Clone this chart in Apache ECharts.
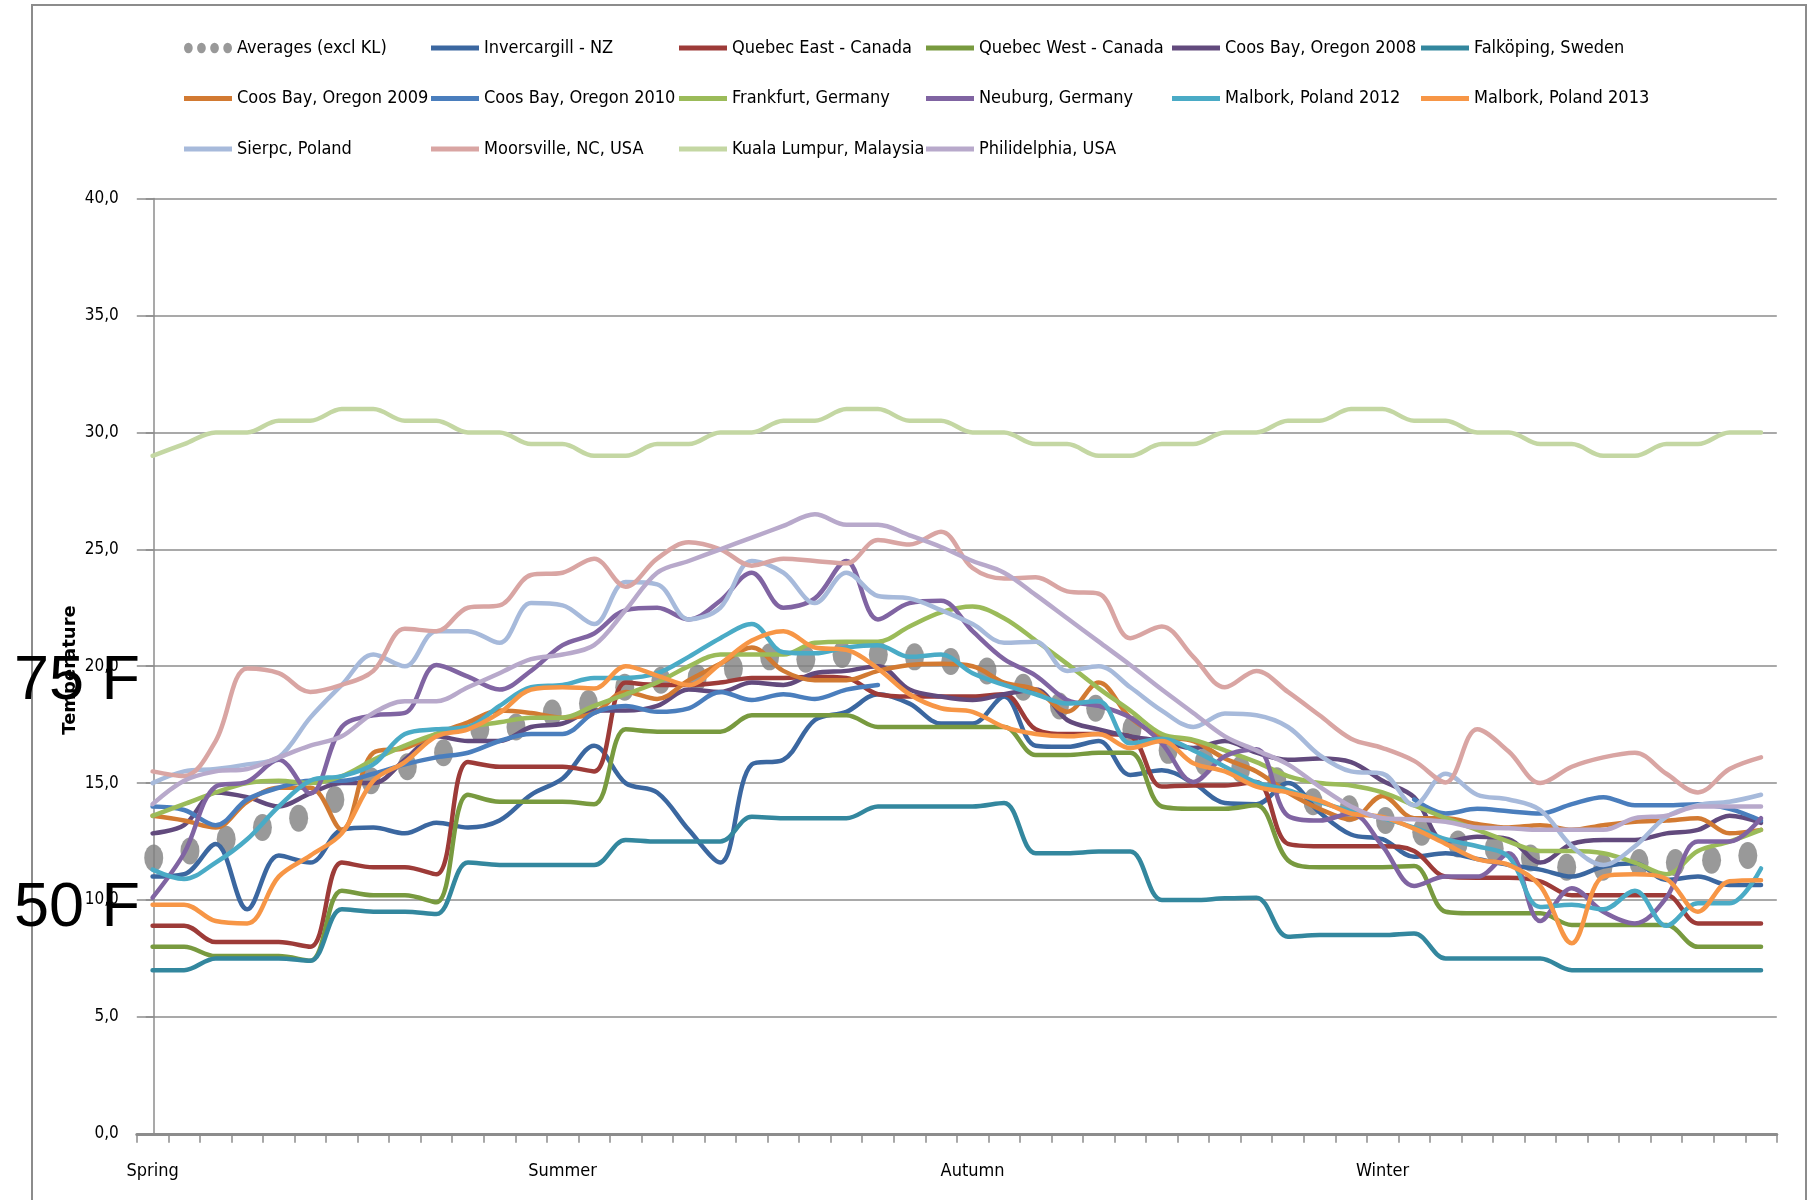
<!DOCTYPE html>
<html>
<head>
<meta charset="utf-8">
<title>Weekly temperatures</title>
<script src="https://cdn.jsdelivr.net/npm/echarts@6/dist/echarts.min.js"></script>
<style>
  html, body { margin: 0; padding: 0; background: #fff; }
  #chart { width: 1818px; height: 1200px; }
</style>
</head>
<body>
<div id="chart"></div>
<script>
/* Weekly temperature, 52 weeks starting in spring */

const seasonLabels = ['Spring', 'Summer', 'Autumn', 'Winter'];
const seasonStart = [0, 13, 26, 39];
const weeks = Array.from({ length: 52 }, (_, i) => 'W' + (i + 1));

// averages sit on their own 45-step axis
const averages = [11.8, 12.1, 12.6, 13.1, 13.5, 14.3, 15.1, 15.7, 16.3, 17.3, 17.4, 18.0, 18.4, 19.1, 19.4,
  19.5, 19.9, 20.4, 20.3, 20.5, 20.5, 20.4, 20.2, 19.8, 19.1, 18.3, 18.2, 17.3, 16.4, 15.9,
  15.6, 15.1, 14.2, 13.9, 13.4, 12.9, 12.4, 12.2, 11.8, 11.4, 11.4, 11.6, 11.6, 11.7, 11.9];

const invercargill = [11.0, 11.1, 12.4, 9.6, 11.9, 11.6, 13.0, 13.1, 12.85, 13.3, 13.1, 13.4, 14.5,
  15.2, 16.6, 15.0, 14.6, 13.0, 11.6, 15.8, 16.0, 17.7, 18.05, 18.8, 18.4, 17.55,
  17.55, 18.7, 16.6, 16.55, 16.8, 15.35, 15.55, 15.0, 14.15, 14.1, 15.0, 13.75, 12.8,
  12.6, 11.85, 12.0, 11.75, 11.5, 11.3, 11.0, 11.43, 11.57, 10.86, 11.0, 10.64, 10.64];

const quebecEast = [8.9, 8.9, 8.2, 8.2, 8.2, 8.0, 11.6, 11.4, 11.4, 11.1, 15.9, 15.7, 15.7,
  15.7, 15.5, 19.3, 19.2, 19.2, 19.3, 19.5, 19.5, 19.55, 19.5, 18.8, 18.7, 18.7,
  18.7, 18.8, 17.3, 17.1, 17.1, 17.0, 14.85, 14.9, 14.9, 15.05, 12.4, 12.3, 12.3,
  12.3, 12.1, 11.0, 10.95, 10.95, 10.8, 10.2, 10.2, 10.2, 10.2, 9.0, 9.0, 9.0];

const quebecWest = [8.0, 8.0, 7.6, 7.6, 7.6, 7.4, 10.4, 10.2, 10.2, 9.9, 14.5, 14.2, 14.2,
  14.2, 14.1, 17.3, 17.2, 17.2, 17.2, 17.9, 17.9, 17.9, 17.9, 17.4, 17.4, 17.4,
  17.4, 17.4, 16.2, 16.2, 16.3, 16.3, 14.0, 13.9, 13.9, 14.05, 11.7, 11.4, 11.4,
  11.4, 11.45, 9.5, 9.43, 9.43, 9.43, 8.93, 8.93, 8.93, 8.93, 8.0, 8.0, 8.0];

const coos2008 = [12.85, 13.2, 14.6, 14.4, 14.0, 14.56, 15.0, 15.0, 16.0, 17.0, 16.8, 16.8, 17.4,
  17.55, 18.1, 18.1, 18.3, 19.0, 18.9, 19.3, 19.2, 19.7, 19.8, 20.0, 19.0, 18.7,
  18.55, 18.8, 19.0, 17.7, 17.3, 17.0, 16.8, 16.5, 16.8, 16.3, 16.0, 16.05, 15.9,
  15.1, 14.4, 12.5, 12.7, 12.6, 11.6, 12.4, 12.57, 12.57, 12.85, 13.0, 13.6, 13.3];

const falkoping = [7.0, 7.0, 7.5, 7.5, 7.5, 7.4, 9.6, 9.5, 9.5, 9.4, 11.6, 11.5, 11.5,
  11.5, 11.5, 12.57, 12.5, 12.5, 12.5, 13.56, 13.5, 13.5, 13.5, 14.0, 14.0, 14.0,
  14.0, 14.15, 12.0, 12.0, 12.07, 12.07, 10.0, 10.0, 10.07, 10.1, 8.43, 8.5, 8.5,
  8.5, 8.57, 7.5, 7.5, 7.5, 7.5, 7.0, 7.0, 7.0, 7.0, 7.0, 7.0, 7.0];

const coos2009 = [13.6, 13.4, 13.1, 14.2, 14.8, 14.8, 13.0, 16.3, 16.5, 17.1, 17.6, 18.1, 18.0,
  17.8, 18.0, 18.9, 18.6, 19.4, 20.1, 20.8, 19.8, 19.4, 19.4, 19.8, 20.05, 20.1,
  20.0, 19.3, 19.0, 18.05, 19.3, 17.8, 17.0, 16.8, 16.05, 15.5, 14.6, 13.9, 13.45,
  14.45, 13.5, 13.5, 13.25, 13.1, 13.2, 13.0, 13.2, 13.35, 13.4, 13.5, 12.85, 13.0];

// gap in the 2010 record between week 25 and week 40
const coos2010 = [14.0, 13.85, 13.2, 14.3, 14.8, 15.1, 15.1, 15.4, 15.8, 16.1, 16.3, 16.8, 17.1,
  17.1, 18.0, 18.3, 18.05, 18.2, 18.9, 18.55, 18.8, 18.6, 19.0, 19.2, null, null,
  null, null, null, null, null, null, null, null, null, null, null, null, null,
  null, 14.3, 13.7, 13.9, 13.8, 13.7, 14.1, 14.4, 14.05, 14.05, 14.1, 13.9, 13.4];

const frankfurt = [13.6, 14.1, 14.6, 15.0, 15.1, 15.0, 15.3, 16.0, 16.6, 17.1, 17.4, 17.6, 17.8,
  17.8, 18.3, 18.8, 19.3, 20.0, 20.5, 20.5, 20.5, 21.0, 21.05, 21.05, 21.7, 22.3,
  22.55, 22.05, 21.1, 20.1, 19.05, 18.1, 17.1, 16.85, 16.4, 15.9, 15.3, 15.0, 14.9,
  14.6, 14.05, 13.5, 13.0, 12.5, 12.1, 12.1, 12.0, 11.6, 11.1, 12.1, 12.5, 13.0];

const neuburg = [10.1, 12.0, 14.85, 15.06, 16.0, 14.56, 17.4, 17.9, 18.0, 20.05, 19.55, 19.0, 19.8,
  20.9, 21.4, 22.4, 22.5, 22.0, 22.8, 24.0, 22.5, 22.9, 24.5, 22.0, 22.7, 22.8,
  21.5, 20.3, 19.6, 18.55, 18.3, 17.8, 16.7, 15.05, 16.15, 16.45, 13.6, 13.4, 13.7,
  12.3, 10.6, 11.0, 11.0, 12.0, 9.1, 10.5, 9.5, 9.0, 10.1, 12.5, 12.5, 13.5];

const malbork2012 = [11.3, 10.9, 11.6, 12.6, 14.0, 15.1, 15.3, 15.8, 17.1, 17.3, 17.4, 18.3, 19.1,
  19.2, 19.5, 19.5, 19.7, 20.4, 21.2, 21.8, 20.6, 20.55, 20.8, 20.9, 20.4, 20.5,
  19.7, 19.2, 18.8, 18.4, 18.5, 16.7, 16.9, 16.4, 15.7, 15.03, 14.7, 14.2, 13.8,
  13.5, 13.1, 12.6, 12.3, 11.85, 9.7, 9.8, 9.6, 10.4, 8.9, 9.86, 9.86, 11.35];

const malbork2013 = [9.8, 9.8, 9.1, 9.0, 11.0, 11.9, 12.85, 15.1, 15.9, 17.0, 17.3, 18.0, 19.0,
  19.1, 19.05, 20.0, 19.6, 19.2, 20.1, 21.1, 21.5, 20.8, 20.7, 19.9, 18.8, 18.2,
  18.05, 17.4, 17.1, 17.0, 17.1, 16.5, 16.8, 15.85, 15.5, 14.85, 14.6, 14.25, 13.7,
  13.55, 13.05, 12.4, 11.75, 11.5, 10.6, 8.15, 11.0, 11.1, 10.9, 9.5, 10.8, 10.85];

const sierpc = [15.0, 15.5, 15.6, 15.8, 16.1, 17.8, 19.2, 20.5, 20.0, 21.5, 21.5, 21.0, 22.7,
  22.6, 21.8, 23.6, 23.5, 22.0, 22.5, 24.5, 24.0, 22.7, 24.0, 23.0, 22.9, 22.4,
  21.8, 21.0, 21.05, 19.8, 20.0, 19.1, 18.1, 17.4, 17.98, 17.9, 17.4, 16.2, 15.5,
  15.4, 14.05, 15.4, 14.5, 14.3, 13.85, 12.3, 11.5, 12.3, 13.56, 14.06, 14.2, 14.5];

const moorsville = [15.5, 15.3, 16.8, 19.9, 19.7, 18.9, 19.2, 19.8, 21.6, 21.5, 22.5, 22.6, 23.9,
  24.0, 24.6, 23.4, 24.6, 25.3, 25.0, 24.3, 24.6, 24.5, 24.4, 25.4, 25.2, 25.75,
  24.2, 23.75, 23.8, 23.2, 23.1, 21.2, 21.7, 20.4, 19.1, 19.8, 18.9, 17.9, 16.9,
  16.5, 15.95, 15.03, 17.3, 16.35, 15.0, 15.7, 16.1, 16.3, 15.4, 14.6, 15.6, 16.1];

const kualaLumpur = [29.0, 29.5, 30, 30, 30.5, 30.5, 31, 31, 30.5, 30.5, 30, 30, 29.5,
  29.5, 29, 29, 29.5, 29.5, 30, 30, 30.5, 30.5, 31, 31, 30.5, 30.5,
  30, 30, 29.5, 29.5, 29, 29, 29.5, 29.5, 30, 30, 30.5, 30.5, 31,
  31, 30.5, 30.5, 30, 30, 29.5, 29.5, 29, 29, 29.5, 29.5, 30, 30];

const philadelphia = [14.1, 15.1, 15.5, 15.6, 16.1, 16.6, 17.0, 18.0, 18.5, 18.5, 19.1, 19.7, 20.3,
  20.5, 20.9, 22.4, 24.0, 24.5, 25.0, 25.5, 26.0, 26.5, 26.05, 26.05, 25.6, 25.1,
  24.5, 24.0, 23.05, 22.05, 21.05, 20.05, 19.0, 18.0, 17.0, 16.4, 15.8, 14.85, 14.0,
  13.5, 13.45, 13.35, 13.1, 13.07, 13.0, 13.0, 13.0, 13.5, 13.6, 14.0, 14.0, 14.0];

const lineSeries = [
  { name: 'Invercargill - NZ', color: '#3b67a0', data: invercargill },
  { name: 'Quebec East - Canada', color: '#9d3b38', data: quebecEast },
  { name: 'Quebec West - Canada', color: '#789a3f', data: quebecWest },
  { name: 'Coos Bay, Oregon 2008', color: '#624a7d', data: coos2008 },
  { name: 'Falköping, Sweden', color: '#33879e', data: falkoping },
  { name: 'Coos Bay, Oregon 2009', color: '#d27a32', data: coos2009 },
  { name: 'Coos Bay, Oregon 2010', color: '#4a7ebd', data: coos2010 },
  { name: 'Frankfurt, Germany', color: '#9bbb59', data: frankfurt },
  { name: 'Neuburg, Germany', color: '#8064a2', data: neuburg },
  { name: 'Malbork, Poland 2012', color: '#4aabc6', data: malbork2012 },
  { name: 'Malbork, Poland 2013', color: '#f79646', data: malbork2013 },
  { name: 'Sierpc, Poland', color: '#a7badb', data: sierpc },
  { name: 'Moorsville, NC, USA', color: '#d9a5a3', data: moorsville },
  { name: 'Kuala Lumpur, Malaysia', color: '#c4d7a3', data: kualaLumpur },
  { name: 'Philidelphia, USA', color: '#b8a9cb', data: philadelphia }
];
const avgName = 'Averages (excl KL)';

// legend laid out in Excel-style fixed columns
const legendColumns = [
  [avgName, 'Coos Bay, Oregon 2009', 'Sierpc, Poland'],
  ['Invercargill - NZ', 'Coos Bay, Oregon 2010', 'Moorsville, NC, USA'],
  ['Quebec East - Canada', 'Frankfurt, Germany', 'Kuala Lumpur, Malaysia'],
  ['Quebec West - Canada', 'Neuburg, Germany', 'Philidelphia, USA'],
  ['Coos Bay, Oregon 2008', 'Malbork, Poland 2012'],
  ['Falköping, Sweden', 'Malbork, Poland 2013']
];
const legendLeft = [184, 431, 679, 926, 1172, 1421];

const NARROW = "'Liberation Sans Narrow', 'Arial Narrow', 'DejaVu Sans Condensed', 'Liberation Sans', sans-serif";
const GRID_GRAY = '#8c8c8c';
const LINE_ICON = 'path://M0,0L48,0L48,5L0,5Z';
// four oval dots, like the chart markers
const DOTS_ICON = 'path://M0,5.5A4.5,5.5,0,1,1,9,5.5A4.5,5.5,0,1,1,0,5.5Z' +
  'M13.5,5.5A4.5,5.5,0,1,1,22.5,5.5A4.5,5.5,0,1,1,13.5,5.5Z' +
  'M27,5.5A4.5,5.5,0,1,1,36,5.5A4.5,5.5,0,1,1,27,5.5Z' +
  'M40.5,5.5A4.5,5.5,0,1,1,49.5,5.5A4.5,5.5,0,1,1,40.5,5.5Z';

const chart = echarts.init(document.getElementById('chart'), null, { renderer: 'canvas' });

const legends = legendColumns.map((names, c) => ({
  orient: 'vertical',
  left: legendLeft[c],
  top: 36,
  padding: 0,
  itemGap: 26.5,
  itemWidth: 48,
  itemHeight: 11,
  selectedMode: false,
  symbolKeepAspect: true,
  itemStyle: { borderWidth: 0 },
  textStyle: { fontFamily: NARROW, fontSize: 18, color: '#000', lineHeight: 24 },
  data: names.map(n => ({ name: n, icon: n === avgName ? DOTS_ICON : LINE_ICON }))
}));

const series = [{
  name: avgName,
  type: 'scatter',
  xAxisIndex: 1,
  symbol: 'circle',
  symbolSize: [19, 27],
  itemStyle: { color: '#7f7f7f' },
  data: averages.map((v, k) => [k, v])
}].concat(lineSeries.map(s => ({
  name: s.name,
  type: 'line',
  data: s.data,
  smooth: 0.35,
  symbol: 'circle',
  showSymbol: false,
  connectNulls: false,
  color: s.color,
  itemStyle: { color: s.color, borderWidth: 0 },
  lineStyle: { color: s.color, width: 4.5, cap: 'round', join: 'round' },
  emphasis: { disabled: true }
})));

const option = {
  backgroundColor: '#fff',
  animation: false,
  legend: legends,
  grid: { left: 136.8, right: 41.2, top: 198.6, bottom: 66.2, containLabel: false },
  xAxis: [
    {
      type: 'category',
      data: weeks,
      boundaryGap: true,
      axisLine: { lineStyle: { color: GRID_GRAY, width: 3 } },
      axisTick: { show: true, interval: 0, length: 9, lineStyle: { color: GRID_GRAY, width: 1.5 } },
      axisLabel: {
        interval: 0,
        margin: 29,
        fontFamily: NARROW,
        fontSize: 18,
        color: '#000',
        formatter: (v, i) => {
          const k = seasonStart.indexOf(i);
          return k >= 0 ? seasonLabels[k] : '';
        }
      },
      splitLine: { show: false }
    },
    { type: 'value', min: -0.467, max: 44.8, show: false }
  ],
  yAxis: {
    type: 'value',
    min: 0,
    max: 40,
    interval: 5,
    axisLine: { show: true, lineStyle: { color: GRID_GRAY, width: 1.5 } },
    axisTick: { show: true, length: 8, lineStyle: { color: GRID_GRAY, width: 1.5 } },
    axisLabel: {
      margin: 18,
      fontFamily: NARROW,
      fontSize: 17,
      color: '#000',
      formatter: v => v.toFixed(1).replace('.', ',')
    },
    splitLine: { lineStyle: { color: GRID_GRAY, width: 1.5 } }
  },
  graphic: [
    {
      type: 'rect', silent: true, z: 0,
      shape: { x: 32, y: 5, width: 1774, height: 1300 },
      style: { fill: 'none', stroke: GRID_GRAY, lineWidth: 2 }
    },
    {
      type: 'text', x: 70, y: 670, rotation: Math.PI / 2, z: 50,
      style: { text: 'Temperature', fontFamily: 'DejaVu Sans', fontWeight: 'bold', fontSize: 18,
        fill: '#000', align: 'center', verticalAlign: 'middle' }
    },
    {
      type: 'text', x: 14, y: 682, z: 60,
      style: { text: '75 F', fontFamily: 'Liberation Sans', fontSize: 63, fill: '#000',
        align: 'left', verticalAlign: 'middle' }
    },
    {
      type: 'text', x: 14, y: 909, z: 60,
      style: { text: '50 F', fontFamily: 'Liberation Sans', fontSize: 63, fill: '#000',
        align: 'left', verticalAlign: 'middle' }
    }
  ],
  series
};

chart.setOption(option);
window.addEventListener('resize', () => chart.resize());
</script>
</body>
</html>
